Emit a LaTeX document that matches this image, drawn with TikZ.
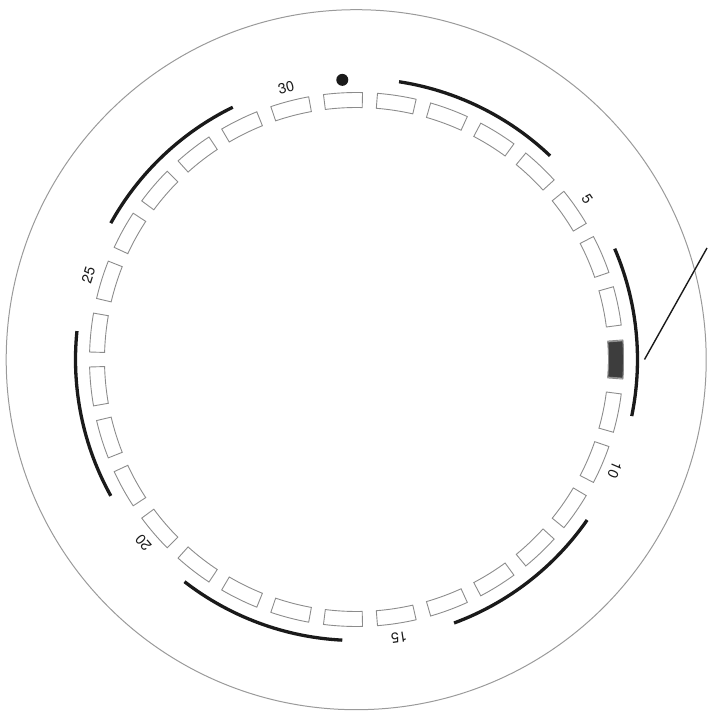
\documentclass[tikz,border=0pt]{standalone}
\usepackage{fontspec}
\setmainfont{TeX Gyre Heros}
\usetikzlibrary{calc}
\definecolor{rim}{HTML}{9a9a9a}
\definecolor{slotgray}{HTML}{8c8c8c}
\definecolor{slotdark}{HTML}{3d3d3d}
\definecolor{band}{HTML}{1a1a1a}

\begin{document}
\begin{tikzpicture}[x=1pt, y=1pt]
\pgfmathsetmacro{\p}{360/31}
\useasboundingbox (-356.5,-352.5) rectangle (350.5,359.5);
% Outer rim
\draw[rim, line width=1pt] (-0.3,-0.2) circle (350);
% Slots, numbered clockwise
\foreach \n in {1,...,31} {
  \pgfmathsetmacro{\a}{(8-\n)*\p}
  \draw[slotgray, line width=0.9pt] ({\a-4.2}:252) arc[start angle={\a-4.2}, end angle={\a+4.2}, radius=252]
    -- ({\a+4.2}:267) arc[start angle={\a+4.2}, end angle={\a-4.2}, radius=267] -- cycle;
}
% Slot 8 filled
\draw[slotgray, fill=slotdark, line width=0.9pt] (-4:252) arc[start angle=-4, end angle=4, radius=252]
  -- (4:267) arc[start angle=4, end angle=-4, radius=267] -- cycle;
% Bands over slots 5k+1 .. 5k+4
\foreach \k in {0,...,5} {
  \pgfmathsetmacro{\s}{(7-5*\k)*\p}
  \pgfmathsetmacro{\e}{(4-5*\k)*\p}
  \draw[band, line width=3.3pt] (\s:281) arc[start angle=\s, end angle=\e, radius=281];
}
% Numbers
\foreach \n in {5,10,...,30} {
  \pgfmathsetmacro{\a}{(8-\n)*\p}
  \node[text=band, font=\fontsize{14.5}{16}\selectfont, rotate=\a-90, inner sep=0pt] (lab\n) at (\a:281) {\n};
}
% Marker above slot 31
\fill[band] ({-23*\p}:280) circle (6);
% Leader
\coordinate (tip) at (0:288);
\coordinate (out) at (350.5,111.5);
\draw[band, line width=1.4pt] (tip) -- (out);
\end{tikzpicture}
\end{document}
